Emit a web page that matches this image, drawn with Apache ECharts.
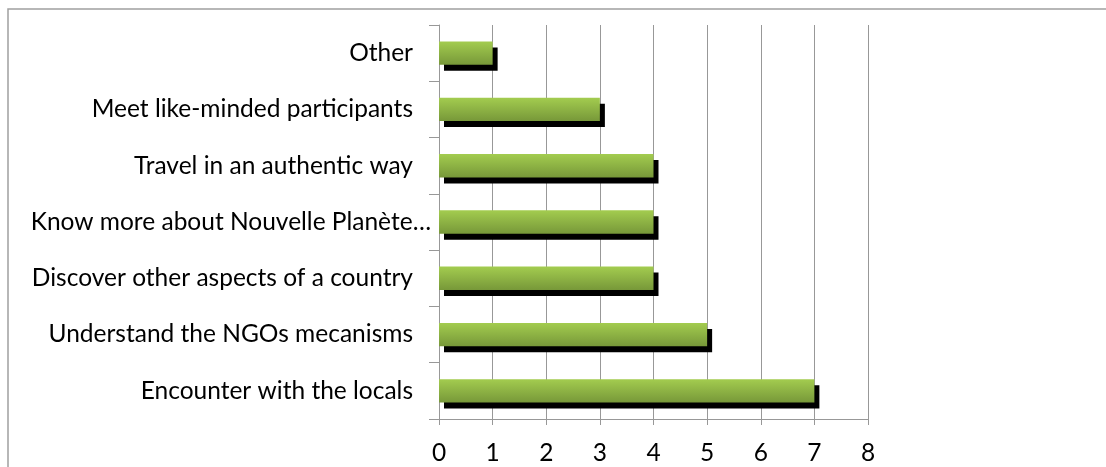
<!DOCTYPE html>
<html>
<head>
<meta charset="utf-8">
<script src="https://cdn.jsdelivr.net/npm/echarts@6/dist/echarts.min.js"></script>
<style>
  html, body { margin: 0; padding: 0; background: #ffffff; }
  #chart { width: 1106px; height: 467px; }
</style>
</head>
<body>
<div id="chart"></div>
<script>
// Reasons given for joining, bottom to top on the category axis
const categories = [
  'Encounter with the locals',
  'Understand the NGOs mecanisms',
  'Discover other aspects of a country',
  'Know more about Nouvelle Planète…',
  'Travel in an authentic way',
  'Meet like-minded participants',
  'Other'
];
const counts = [7, 5, 4, 4, 4, 3, 1];
const xTicks = [0, 1, 2, 3, 4, 5, 6, 7, 8];

const chart = echarts.init(document.getElementById('chart'), null, { renderer: 'canvas' });

const font = 'Lato, "Open Sans", "Liberation Sans", sans-serif';
const lineGray = '#989898';

chart.setOption({
  animation: false,
  backgroundColor: '#ffffff',
  graphic: [
    {
      type: 'polyline',
      shape: { points: [[8, 467], [8, 9], [1106, 9]] },
      style: { stroke: '#a0a0a0', lineWidth: 1.5, fill: null },
      silent: true
    }
  ],
  grid: { left: 439, top: 25, right: 238, bottom: 48, containLabel: false },
  xAxis: {
    type: 'value',
    min: xTicks[0],
    max: xTicks[xTicks.length - 1],
    interval: 1,
    axisLine: { show: true, lineStyle: { color: lineGray, width: 1 } },
    axisTick: { show: true, length: 6, inside: false, lineStyle: { color: lineGray } },
    splitLine: { show: true, lineStyle: { color: lineGray, width: 1 } },
    axisLabel: {
      color: '#000000', fontSize: 24.5, fontFamily: font, margin: 22,
      formatter: v => String(v)
    }
  },
  yAxis: {
    type: 'category',
    data: categories,
    axisLine: { show: true, lineStyle: { color: lineGray, width: 1 } },
    axisTick: { show: true, length: 10, lineStyle: { color: lineGray } },
    splitLine: { show: false },
    axisLabel: {
      color: '#000000', fontSize: 24.5, fontFamily: font, margin: 8,
      // the shortened label runs closer to the axis than the full ones
      formatter: v => (v.endsWith('…') ? '{cut|' + v + '}' : '{full|' + v + '}'),
      rich: {
        full: { fontSize: 24.5, fontFamily: font, color: '#000000', padding: [0, 18, 0, 0] },
        cut: { fontSize: 24.5, fontFamily: font, color: '#000000', padding: [0, 0, 0, 0] }
      }
    }
  },
  series: [
    {
      type: 'bar',
      data: counts,
      barWidth: '41.5%',
      itemStyle: {
        color: new echarts.graphic.LinearGradient(0, 0, 0, 1, [
          { offset: 0, color: '#a3cc4f' },
          { offset: 1, color: '#779839' }
        ]),
        shadowColor: '#000000',
        shadowBlur: 0,
        shadowOffsetX: 5,
        shadowOffsetY: 6
      },
      label: { show: false }
    }
  ]
});
</script>
</body>
</html>
